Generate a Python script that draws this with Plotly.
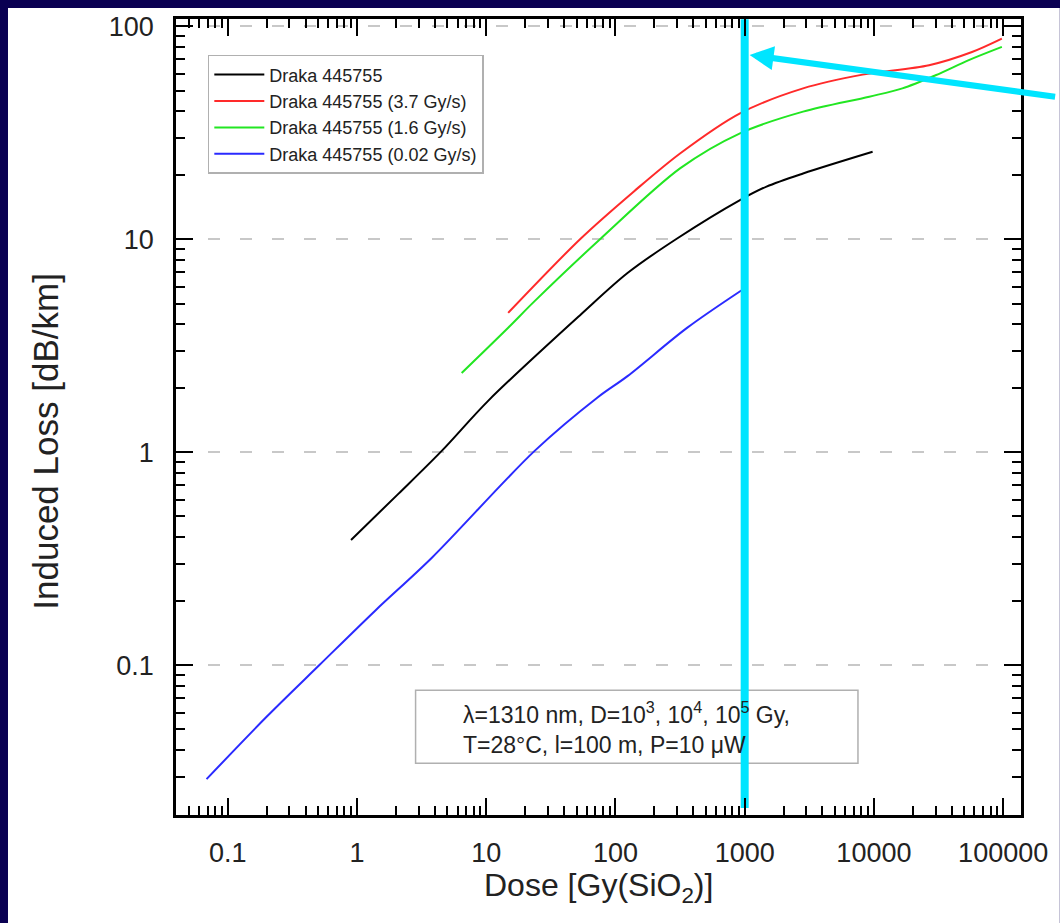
import plotly.graph_objects as go

# ---------------- data ----------------
black_x = [0.9, 2.1, 4.53, 10.4, 54, 124, 300, 920, 1476, 2830, 9770]
black_y = [0.388, 0.64, 1.016, 1.75, 4.44, 6.95, 10.1, 15.3, 17.7, 20.4, 25.8]

red_x = [14.8, 54, 139, 318, 920, 2830, 8180, 26700, 57400, 97700]
red_y = [4.52, 10.1, 16.8, 25.4, 39.1, 51.2, 59.4, 65.8, 75.9, 87.7]

green_x = [6.46, 14.8, 23.7, 77.1, 318, 920, 2830, 9200, 16600, 30000, 54200, 97700]
green_y = [2.36, 3.85, 5.13, 10.1, 21.6, 31.5, 39.8, 46.8, 51.2, 59.0, 69.5, 80.2]

blue_x = [0.0686, 0.2, 0.51, 1.39, 3.8, 23.7, 72.7, 124, 358, 948]
blue_y = [0.0292, 0.0573, 0.1, 0.181, 0.32, 1.016, 1.81, 2.28, 3.84, 5.77]

series_names = ["Draka 445755", "Draka 445755 (3.7 Gy/s)",
                "Draka 445755 (1.6 Gy/s)", "Draka 445755 (0.02 Gy/s)"]

marker_dose = [1000, 1000]
marker_loss = [0.0214, 108]

x_tickvals = [0.1, 1, 10, 100, 1000, 10000, 100000]
x_ticktext = ["0.1", "1", "10", "100", "1000", "10000", "100000"]
y_tickvals = [0.1, 1, 10, 100]
y_ticktext = ["0.1", "1", "10", "100"]

# ---------------- figure ----------------
FONT = "Liberation Sans, Arial, sans-serif"
NAVY = "#0a0052"
CYAN = "#00e5ff"
TXT = "#222222"

fig = go.Figure()
for name, xs, ys, col in [
    (series_names[0], black_x, black_y, "#000000"),
    (series_names[1], red_x, red_y, "#ff2a2a"),
    (series_names[2], green_x, green_y, "#22e622"),
    (series_names[3], blue_x, blue_y, "#2a2aff"),
]:
    fig.add_trace(go.Scatter(x=xs, y=ys, name=name, mode="lines",
                             line=dict(color=col, width=2, shape="spline",
                                       smoothing=0.9)))

fig.add_trace(go.Scatter(x=marker_dose, y=marker_loss, mode="lines",
                         line=dict(color=CYAN, width=8), showlegend=False,
                         hoverinfo="skip"))

W, H = 1060, 923
L, R, T, B = 176, 34, 17, 108
pw, ph = W - L - R, H - T - B


def px(xp):
    return (xp - L) / pw


def py(yp):
    return (H - B - yp) / ph


axis_common = dict(
    type="log", showline=True, linecolor="black", linewidth=2.5,
    mirror="allticks", ticks="inside", ticklen=17, tickwidth=2,
    tickcolor="black", zeroline=False,
    tickfont=dict(family=FONT, size=27, color=TXT),
    minor=dict(ticks="inside", ticklen=9, tickwidth=2, tickcolor="black",
               dtick="D1", showgrid=False),
)

fig.update_layout(
    width=W, height=H, autosize=False,
    margin=dict(l=L, r=R, t=T, b=B),
    paper_bgcolor=NAVY, plot_bgcolor="white",
    font=dict(family=FONT, color=TXT),
    xaxis=dict(axis_common, range=[-1.4, 5.138], tickvals=x_tickvals,
               ticktext=x_ticktext, showgrid=False, ticklabelstandoff=12),
    yaxis=dict(axis_common, range=[-1.703, 2.035], tickvals=y_tickvals,
               ticktext=y_ticktext, showgrid=True, gridcolor="#c8c8c8",
               gridwidth=2, griddash="12px,20px", ticklabelstandoff=14),
    legend=dict(x=px(208), y=py(53), xanchor="left", yanchor="top",
                bgcolor="white", bordercolor="#b0b0b0", borderwidth=1.5,
                font=dict(family=FONT, size=18, color=TXT),
                itemwidth=50, tracegroupgap=0),
    shapes=[
        dict(type="rect", xref="paper", yref="paper", layer="below",
             x0=px(7), x1=px(W + 5), y0=py(H + 5), y1=py(6),
             fillcolor="white", line=dict(width=0)),
        dict(type="rect", xref="paper", yref="paper", layer="below",
             x0=px(417), x1=px(862), y0=py(763), y1=py(690),
             fillcolor="white", line=dict(color="#b0b0b0", width=1.5)),
    ],
    annotations=[
        dict(xref="paper", yref="paper", x=px(601), y=py(888),
             xanchor="center", yanchor="middle", showarrow=False,
             text="Dose [Gy(SiO<sub>2</sub>)]",
             font=dict(family=FONT, size=32, color=TXT)),
        dict(xref="paper", yref="paper", x=px(45), y=py(440),
             xanchor="center", yanchor="middle", showarrow=False,
             textangle=-90, text="Induced Loss [dB/km]",
             font=dict(family=FONT, size=35, color=TXT)),
        dict(xref="paper", yref="paper", x=px(463), y=py(727.5),
             xanchor="left", yanchor="middle", align="left", showarrow=False,
             text="λ=1310 nm, D=10<sup>3</sup>, 10<sup>4</sup>, 10<sup>5</sup> Gy,"
                  "<br>T=28°C, l=100 m, P=10 μW",
             font=dict(family=FONT, size=23, color=TXT)),
        dict(xref="paper", yref="paper", x=px(753), y=py(53), text="",
             showarrow=True, ax=307, ay=42, axref="pixel", ayref="pixel",
             arrowcolor=CYAN, arrowwidth=6, arrowhead=2, arrowsize=0.8,
             standoff=0),
    ],
)

fig.write_html(
    "out.html",
    config={"displayModeBar": False},
    post_script="document.body.style.margin='0';"
                "document.body.style.padding='0';"
                "document.body.style.overflow='hidden';"
                "document.body.style.background='%s';" % NAVY,
)
